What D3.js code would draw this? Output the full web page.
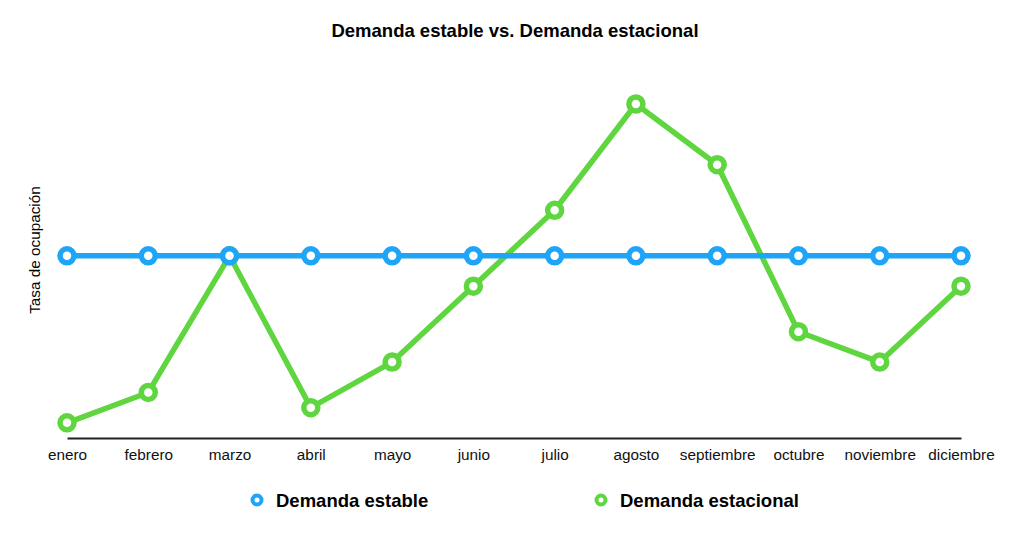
<!DOCTYPE html>
<html>
<head>
<meta charset="utf-8">
<script src="https://cdn.jsdelivr.net/npm/d3@7"></script>
<style>
  body { margin: 0; background: #fff; }
  text { font-family: "Liberation Sans", Arial, Helvetica, sans-serif; }
</style>
</head>
<body>
<svg id="chart"></svg>
<script>
const width = 1024;
const height = 538;

// Datos
const months = ["enero", "febrero", "marzo", "abril", "mayo", "junio", "julio",
    "agosto", "septiembre", "octubre", "noviembre", "diciembre"];
const stableDemand = [12, 12, 12, 12, 12, 12, 12, 12, 12, 12, 12, 12];
const seasonalDemand = [1, 3, 12, 2, 5, 10, 15, 22, 18, 7, 5, 10];
const seriesNames = ["Demanda estable", "Demanda estacional"];
const seriesColors = ["#1ea5f8", "#5fd63f"];

const svg = d3.select("#chart")
    .attr("width", width)
    .attr("height", height);

const xScale = d3.scalePoint()
    .domain(months)
    .range([67, 961]);

const yScale = d3.scaleLinear()
    .domain([0, 22])
    .range([438, 104]);

// Titulo
svg.append("text")
    .attr("x", 515)
    .attr("y", 37)
    .attr("text-anchor", "middle")
    .style("font-size", "18.5px")
    .style("font-weight", "bold")
    .text("Demanda estable vs. Demanda estacional");

// Eje Y (solo etiqueta)
svg.append("text")
    .attr("transform", "rotate(-90)")
    .attr("x", -250)
    .attr("y", 40)
    .attr("text-anchor", "middle")
    .style("font-size", "15.3px")
    .text("Tasa de ocupación");

// Eje X
const xAxis = svg.append("g")
    .attr("transform", `translate(0, ${yScale(0)})`)
    .call(d3.axisBottom(xScale).tickSize(0).tickPadding(11));
xAxis.select(".domain").attr("stroke", "#222").attr("stroke-width", 2);
xAxis.selectAll("text")
    .style("font-size", "15.3px")
    .style("font-family", "'Liberation Sans', Arial, sans-serif")
    .attr("fill", "#111");

const series = [
    { name: seriesNames[1], values: seasonalDemand, color: seriesColors[1] },
    { name: seriesNames[0], values: stableDemand, color: seriesColors[0] }
];

const line = d3.line()
    .x((d, i) => xScale(months[i]))
    .y(d => yScale(d));

series.forEach(s => {
    const g = svg.append("g");
    g.append("path")
        .datum(s.values)
        .attr("fill", "none")
        .attr("stroke", s.color)
        .attr("stroke-width", 5.5)
        .attr("stroke-linejoin", "round")
        .attr("d", line);
    g.selectAll("circle")
        .data(s.values)
        .enter().append("circle")
        .attr("cx", (d, i) => xScale(months[i]))
        .attr("cy", d => yScale(d))
        .attr("r", 7)
        .attr("fill", "#fff")
        .attr("stroke", s.color)
        .attr("stroke-width", 5.5);
});

// Leyenda
const legendX = [257, 601];
seriesNames.forEach((name, i) => {
    const lg = svg.append("g").attr("transform", `translate(${legendX[i]}, 500)`);
    lg.append("circle")
        .attr("r", 4.5)
        .attr("fill", "#fff")
        .attr("stroke", seriesColors[i])
        .attr("stroke-width", 4);
    lg.append("text")
        .attr("x", 19)
        .attr("y", 6.5)
        .style("font-size", "18.5px")
        .style("font-weight", "bold")
        .text(name);
});
</script>
</body>
</html>
